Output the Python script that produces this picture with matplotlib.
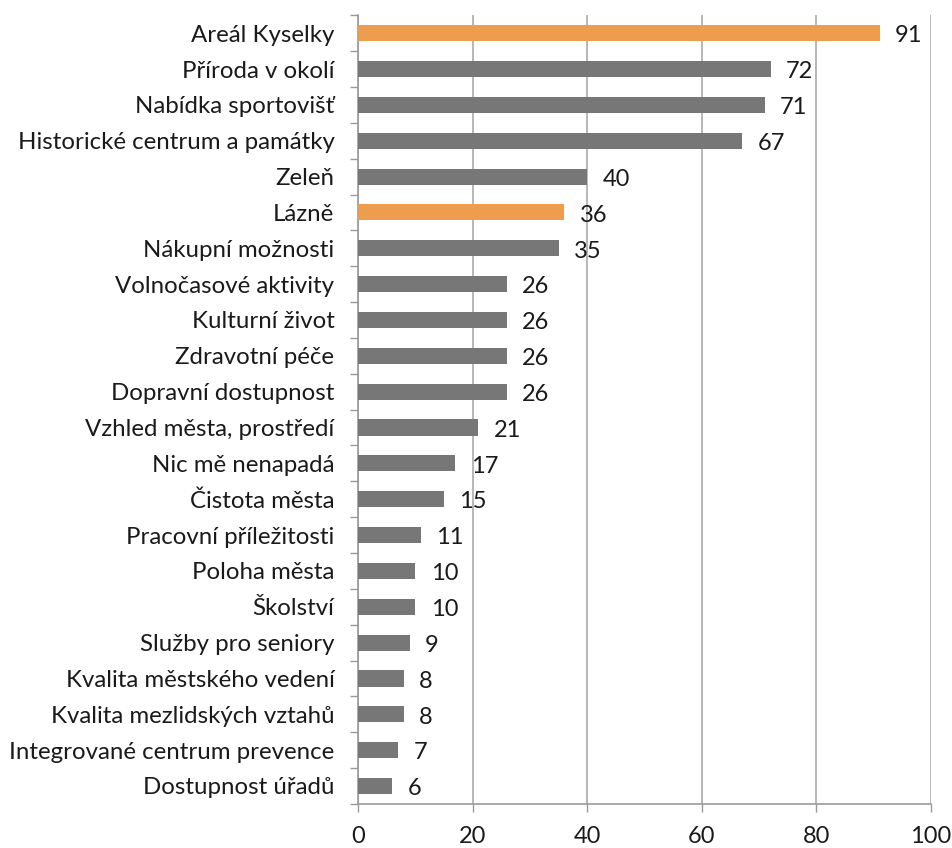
import matplotlib.pyplot as plt
import numpy as np

plt.rcParams['font.family'] = ['Lato', 'DejaVu Sans']

categories = [
    'Areál Kyselky', 'Příroda v okolí', 'Nabídka sportovišť',
    'Historické centrum a památky', 'Zeleň', 'Lázně', 'Nákupní možnosti',
    'Volnočasové aktivity', 'Kulturní život', 'Zdravotní péče',
    'Dopravní dostupnost', 'Vzhled města, prostředí', 'Nic mě nenapadá',
    'Čistota města', 'Pracovní příležitosti', 'Poloha města', 'Školství',
    'Služby pro seniory', 'Kvalita městského vedení',
    'Kvalita mezlidských vztahů', 'Integrované centrum prevence',
    'Dostupnost úřadů',
]
values = [91, 72, 71, 67, 40, 36, 35, 26, 26, 26, 26, 21, 17, 15, 11, 10, 10, 9, 8, 8, 7, 6]
highlight = ['Areál Kyselky', 'Lázně']

gray = '#777777'
orange = '#EE9D4E'
colors = [orange if c in highlight else gray for c in categories]

fig = plt.figure(figsize=(9.53, 8.48), dpi=100)
ax = fig.add_axes([0.3757, 0.052, 0.977 - 0.3757, 0.982 - 0.052])

y = np.arange(len(categories))
ax.barh(y, values, height=0.45, color=colors, zorder=3)

for yi, v in zip(y, values):
    ax.annotate(str(v), (v, yi), xytext=(11, -2), textcoords='offset points',
                va='center', ha='left', fontsize=17, color='#1a1a1a')

ax.set_xlim(0, 100)
ax.set_ylim(len(categories) - 0.5, -0.5)
ax.set_xticks(np.arange(0, 101, 20))
ax.set_yticks(y)
ax.set_yticklabels(categories, fontsize=17.3, color='#1a1a1a')
ax.set_yticks(np.arange(-0.5, len(categories), 1), minor=True)
ax.tick_params(axis='y', which='major', length=0, pad=17)
ax.tick_params(axis='y', which='minor', length=6, color='#999999', width=1)
ax.tick_params(axis='x', length=6, color='#999999', width=1, labelsize=17,
               labelcolor='#1a1a1a', pad=10)

ax.grid(axis='x', color='#aaaaaa', linewidth=1.2, zorder=0)
for s in ['top', 'right']:
    ax.spines[s].set_visible(False)
for s in ['left', 'bottom']:
    ax.spines[s].set_color('#999999')
    ax.spines[s].set_linewidth(1.2)

fig.savefig('out.png', dpi=100)
